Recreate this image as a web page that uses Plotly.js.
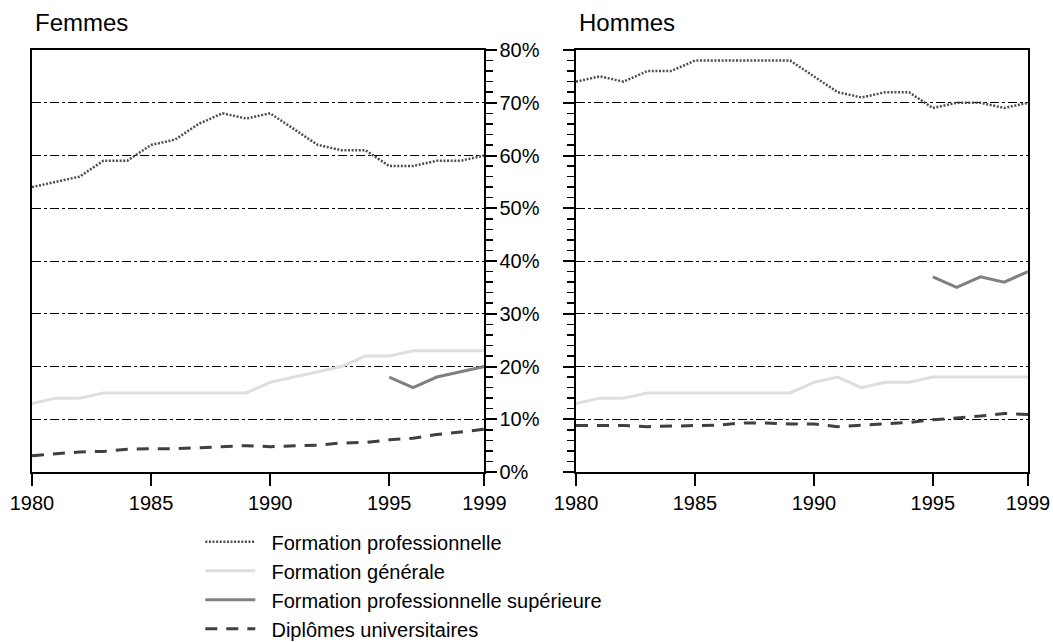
<!DOCTYPE html>
<html>
<head>
<meta charset="utf-8">
<script src="https://cdn.plot.ly/plotly-3.0.1.min.js"></script>
<style>html,body{margin:0;padding:0;background:#fff;}#chart{width:1053px;height:642px;}</style>
</head>
<body>
<div id="chart"></div>
<script>
const years = [1980,1981,1982,1983,1984,1985,1986,1987,1988,1989,1990,1991,1992,1993,1994,1995,1996,1997,1998,1999];
const supYears = [1995,1996,1997,1998,1999];

const femmesPro = [54,55,56,59,59,62,63,66,68,67,68,65,62,61,61,58,58,59,59,60];
const femmesGen = [13,14,14,15,15,15,15,15,15,15,17,18,19,20,22,22,23,23,23,23];
const femmesSup = [18,16,18,19,20];
const femmesDip = [3.1,3.5,3.8,3.9,4.3,4.4,4.4,4.6,4.8,5.0,4.8,4.9,5.1,5.5,5.6,6.1,6.4,7.1,7.6,8.1];

const hommesPro = [74,75,74,76,76,78,78,78,78,78,75,72,71,72,72,69,70,70,69,70];
const hommesGen = [13,14,14,15,15,15,15,15,15,15,17,18,16,17,17,18,18,18,18,18];
const hommesSup = [37,35,37,36,38];
const hommesDip = [8.8,8.8,8.8,8.6,8.7,8.7,8.9,9.3,9.3,9.1,9.1,8.6,8.9,9.1,9.4,9.9,10.2,10.6,11.1,10.9];

const seriesNames = ['Formation professionnelle','Formation générale','Formation professionnelle supérieure','Diplômes universitaires'];
const panelTitles = ['Femmes','Hommes'];
const xTicks = [1980,1985,1990,1995,1999];
const yTicks = [0,10,20,30,40,50,60,70,80];
const yTickText = yTicks.map(v => v + '%');

const styles = [
  {color:'#4d4d4d', width:2.5, dash:'2px,1.6px'},
  {color:'#dedede', width:3, dash:'solid'},
  {color:'#808080', width:3, dash:'solid'},
  {color:'#404040', width:3, dash:'12px,9px'}
];

function mk(x, y, i, xa, ya, show) {
  return {x:x, y:y, type:'scatter', mode:'lines', name:'\u00a0\u00a0' + seriesNames[i], legendgroup:'g'+i,
    showlegend:show, line:Object.assign({}, styles[i]), xaxis:xa, yaxis:ya, hoverinfo:'skip'};
}

const traces = [
  mk(years, femmesPro, 0, 'x', 'y', true),
  mk(years, femmesGen, 1, 'x', 'y', true),
  mk(supYears, femmesSup, 2, 'x', 'y', true),
  mk(years, femmesDip, 3, 'x', 'y', true),
  mk(years, hommesPro, 0, 'x2', 'y2', false),
  mk(years, hommesGen, 1, 'x2', 'y2', false),
  mk(supYears, hommesSup, 2, 'x2', 'y2', false),
  mk(years, hommesDip, 3, 'x2', 'y2', false)
];

const fam = '"Liberation Sans", Arial, sans-serif';
const font = {family:fam, size:20, color:'#000'};

function xax(domain, anchor) {
  return {domain:domain, anchor:anchor, range:[1980,1999], tickvals:xTicks, ticktext:xTicks.map(String),
    ticks:'outside', ticklen:12, tickwidth:2, tickcolor:'#000', showline:true, linecolor:'#000', linewidth:2,
    mirror:true, showgrid:false, zeroline:false, tickfont:font, fixedrange:true};
}
function yax(anchor, side, labels) {
  return {anchor:anchor, side:side, range:[0,80], tickvals:yTicks, ticktext:yTickText, showticklabels:labels,
    ticks:'outside', ticklen:11, tickwidth:2, tickcolor:'#000',
    minor:{dtick:2, tick0:0, ticks:'outside', ticklen:7, tickwidth:1.5, tickcolor:'#000', showgrid:false},
    showline:true, linecolor:'#000', linewidth:2, mirror:true,
    showgrid:true, gridcolor:'#000', gridwidth:1, griddash:'dashdot', zeroline:false, tickfont:font,
    ticklabelstandoff:-2, fixedrange:true};
}

const layout = {
  width:1053, height:642,
  margin:{l:32, r:25, t:50, b:170, autoexpand:false},
  paper_bgcolor:'#fff', plot_bgcolor:'#fff',
  font:font,
  xaxis: xax([0, 0.4543], 'y'),
  yaxis: yax('x', 'right', true),
  xaxis2: xax([0.5462, 1], 'y2'),
  yaxis2: yax('x2', 'left', false),
  showlegend:true,
  legend:{x:0.169, xanchor:'left', y:-0.119, yanchor:'top', orientation:'v',
    font:{family:fam, size:20, color:'#000'},
    itemwidth:50, tracegroupgap:0, bgcolor:'rgba(0,0,0,0)', borderwidth:0},
  annotations:[
    {text:panelTitles[0], xref:'x domain', yref:'y domain', x:0, y:1, xanchor:'left', yanchor:'bottom',
      xshift:1, yshift:12, showarrow:false, font:{family:fam, size:24, color:'#000'}},
    {text:panelTitles[1], xref:'x2 domain', yref:'y2 domain', x:0, y:1, xanchor:'left', yanchor:'bottom',
      xshift:1, yshift:12, showarrow:false, font:{family:fam, size:24, color:'#000'}}
  ]
};

Plotly.newPlot('chart', traces, layout, {staticPlot:true, displayModeBar:false});
</script>
</body>
</html>
